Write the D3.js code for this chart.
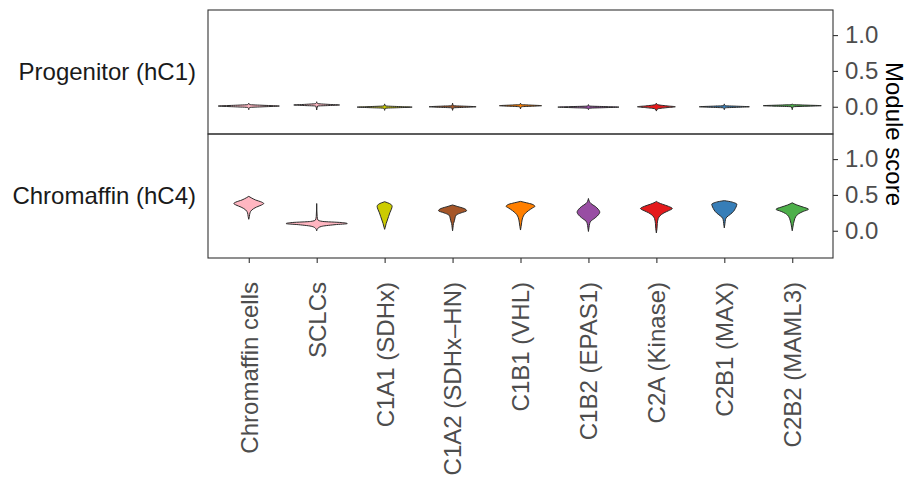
<!DOCTYPE html>
<html lang="en">

<head>
    <meta charset="utf-8">
    <title>Module scores by group</title>
    <script src="https://d3js.org/d3.v7.min.js"></script>
    <style type="text/css">
        body {
            margin: 0;
            background: white;
        }

        text {
            font-family: "Liberation Sans", Arial, sans-serif;
        }
    </style>
</head>

<body>
    <script type="text/javascript">

        //categories along the x axis + fill colours
        const categories = ["Chromaffin cells", "SCLCs", "C1A1 (SDHx)", "C1A2 (SDHx\u2013HN)", "C1B1 (VHL)",
            "C1B2 (EPAS1)", "C2A (Kinase)", "C2B1 (MAX)", "C2B2 (MAML3)"];
        const fills = ["#FFB6C1", "#FFB6C1", "#CCCC00", "#A65628", "#FF7F00",
            "#984EA3", "#E41A1C", "#377EB8", "#4DAF4A"];

        const panelNames = ["Progenitor (hC1)", "Chromaffin (hC4)"];
        const yTicks = [0, 0.5, 1.0];

        //violin outlines: [score, relative half width]
        const progenitorViolins = [
            [[-0.04, 0], [-0.01, 0.03], [0.0, 0.5], [0.01, 1.0], [0.02, 0.5], [0.03, 0.03], [0.05, 0]],
            [[-0.045, 0], [0.01, 0.03], [0.017, 0.4], [0.025, 0.75], [0.033, 0.4], [0.045, 0.03], [0.07, 0]],
            [[-0.05, 0], [-0.02, 0.03], [-0.013, 0.45], [-0.005, 0.9], [0.003, 0.45], [0.012, 0.03], [0.04, 0]],
            [[-0.05, 0], [-0.015, 0.03], [-0.008, 0.4], [0.0, 0.77], [0.008, 0.4], [0.015, 0.03], [0.05, 0]],
            [[-0.03, 0], [0.0, 0.03], [0.007, 0.35], [0.015, 0.69], [0.023, 0.35], [0.03, 0.03], [0.05, 0]],
            [[-0.04, 0], [-0.02, 0.03], [-0.013, 0.5], [-0.005, 1.0], [0.003, 0.5], [0.01, 0.03], [0.03, 0]],
            [[-0.06, 0], [-0.03, 0.04], [-0.012, 0.35], [0.0, 0.62], [0.012, 0.35], [0.03, 0.04], [0.05, 0]],
            [[-0.04, 0], [-0.015, 0.03], [-0.008, 0.4], [0.0, 0.82], [0.008, 0.4], [0.015, 0.03], [0.04, 0]],
            [[-0.04, 0], [0.0, 0.03], [0.007, 0.45], [0.015, 0.95], [0.023, 0.45], [0.03, 0.03], [0.04, 0]]
        ];

        const chromaffinViolins = [
            [[0.16, 0], [0.2, 0.02], [0.25, 0.04], [0.29, 0.1], [0.33, 0.25], [0.36, 0.42], [0.38, 0.49], [0.4, 0.42], [0.43, 0.22], [0.46, 0.08], [0.48, 0]],
            [[0.0, 0], [0.03, 0.03], [0.06, 0.15], [0.085, 0.6], [0.1, 1.0], [0.115, 0.8], [0.13, 0.2], [0.15, 0.04], [0.2, 0.015], [0.38, 0]],
            [[0.02, 0], [0.05, 0.02], [0.1, 0.05], [0.15, 0.09], [0.2, 0.13], [0.25, 0.17], [0.3, 0.22], [0.34, 0.245], [0.37, 0.2], [0.39, 0.1], [0.405, 0]],
            [[0.0, 0], [0.05, 0.015], [0.1, 0.03], [0.14, 0.06], [0.18, 0.08], [0.22, 0.12], [0.25, 0.28], [0.28, 0.46], [0.31, 0.38], [0.34, 0.15], [0.36, 0]],
            [[0.01, 0], [0.06, 0.02], [0.12, 0.04], [0.18, 0.07], [0.23, 0.13], [0.28, 0.26], [0.32, 0.4], [0.34, 0.47], [0.37, 0.38], [0.39, 0.2], [0.41, 0]],
            [[-0.01, 0], [0.05, 0.02], [0.1, 0.04], [0.135, 0.08], [0.18, 0.22], [0.22, 0.32], [0.26, 0.37], [0.3, 0.32], [0.34, 0.22], [0.38, 0.08], [0.41, 0.03], [0.45, 0]],
            [[-0.03, 0], [0.03, 0.02], [0.1, 0.03], [0.17, 0.06], [0.21, 0.12], [0.25, 0.25], [0.28, 0.4], [0.31, 0.52], [0.34, 0.4], [0.37, 0.2], [0.39, 0.08], [0.41, 0]],
            [[0.04, 0], [0.1, 0.02], [0.16, 0.04], [0.19, 0.08], [0.23, 0.2], [0.27, 0.3], [0.31, 0.36], [0.35, 0.4], [0.37, 0.41], [0.39, 0.33], [0.41, 0.15], [0.42, 0]],
            [[0.0, 0], [0.05, 0.02], [0.1, 0.04], [0.15, 0.07], [0.2, 0.12], [0.24, 0.22], [0.27, 0.36], [0.3, 0.53], [0.33, 0.36], [0.36, 0.15], [0.39, 0]]
        ];

        //svg information
        const width = 908;
        const height = 477;
        const svg = d3.select("body")
            .append("svg")
            .attr("width", width)
            .attr("height", height);

        const plotLeft = 208, plotRight = 833, plotTop = 10, panelH = 124;
        const fontSize = 24;

        const x = d3.scalePoint()
            .domain(categories)
            .range([plotLeft, plotRight])
            .padding(0.6); //ggplot-like discrete expansion

        //violin half width: 0.9 of a category step at the widest
        const halfW = d3.scaleLinear()
            .domain([0, 1])
            .range([0, 0.45 * x.step()]);

        const panelData = [progenitorViolins, chromaffinViolins];

        panelData.forEach(function (violins, p) {
            const y0 = plotTop + p * panelH;
            const y = d3.scaleLinear()
                .domain([-0.38, 1.35])
                .range([y0 + panelH, y0]);

            const g = svg.append("g");

            const area = d3.area()
                .curve(d3.curveMonotoneY)
                .y(d => y(d[0]));

            g.selectAll("path.violin")
                .data(violins)
                .join("path")
                .attr("class", "violin")
                .attr("d", function (d, i) {
                    const cx = x(categories[i]);
                    return area.x0(e => cx - halfW(e[1])).x1(e => cx + halfW(e[1]))(d);
                })
                .attr("fill", (d, i) => fills[i])
                .attr("stroke", "#2b2b2b")
                .attr("stroke-width", 1);

            //panel border
            g.append("rect")
                .attr("x", plotLeft)
                .attr("y", y0)
                .attr("width", plotRight - plotLeft)
                .attr("height", panelH)
                .attr("fill", "none")
                .attr("stroke", "#333")
                .attr("stroke-width", 1.1);

            //right axis
            const ax = g.append("g")
                .attr("transform", `translate(${plotRight},0)`)
                .call(d3.axisRight(y).tickValues(yTicks).tickFormat(d3.format(".1f")).tickSize(5).tickPadding(7));
            ax.select(".domain").remove();
            ax.selectAll("line").attr("stroke", "#333").attr("stroke-width", 1.1);
            ax.selectAll("text")
                .attr("fill", "#4D4D4D")
                .style("font-size", fontSize + "px")
                .style("font-family", "'Liberation Sans', Arial, sans-serif");

            //row label on the left
            g.append("text")
                .attr("x", 196)
                .attr("y", y0 + panelH / 2)
                .attr("dy", "0.35em")
                .attr("text-anchor", "end")
                .attr("fill", "#1A1A1A")
                .style("font-size", fontSize + "px")
                .text(panelNames[p]);
        });

        //bottom axis with rotated labels
        const bx = svg.append("g")
            .attr("transform", `translate(0,${plotTop + 2 * panelH})`)
            .call(d3.axisBottom(x).tickSize(5));
        bx.select(".domain").remove();
        bx.selectAll("line").attr("stroke", "#333").attr("stroke-width", 1.1);
        bx.selectAll("text")
            .attr("y", 0)
            .attr("x", -24)
            .attr("dy", "0.35em")
            .attr("transform", "rotate(-90)")
            .attr("text-anchor", "end")
            .attr("fill", "#4D4D4D")
            .style("font-size", fontSize + "px")
            .style("font-family", "'Liberation Sans', Arial, sans-serif");

        //axis title
        svg.append("text")
            .attr("transform", `translate(886,${plotTop + panelH}) rotate(90)`)
            .attr("text-anchor", "middle")
            .attr("fill", "#000")
            .style("font-size", fontSize + "px")
            .text("Module score");

    </script>
</body>

</html>
